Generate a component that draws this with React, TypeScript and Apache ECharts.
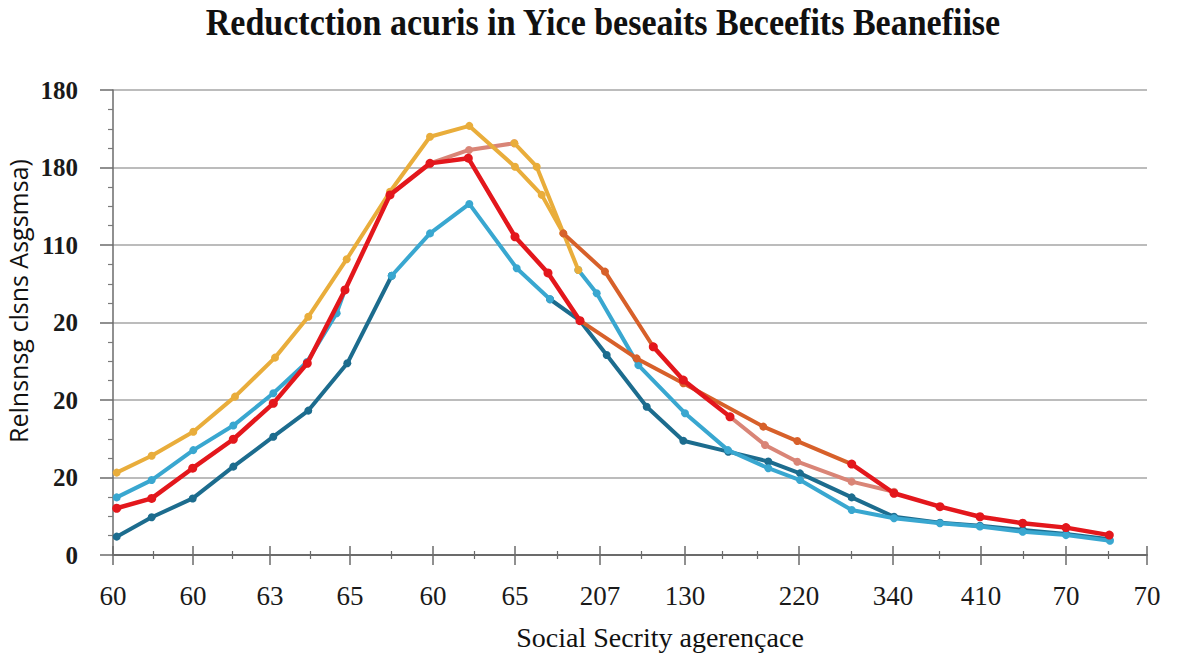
import React, { useEffect, useRef } from "react";
import * as echarts from "echarts";

const TITLE = "Reductction acuris in Yice beseaits Beceefits Beanefiise";
const Y_NAME = "Relnsnsg clsns Asgsmsa)";
const X_NAME = "Social Secrity agerençace";

// x positions of ticks (axis units) and their labels
const X_MAJOR = [0, 80, 157, 237, 320, 402, 487, 572, 686, 780, 868, 953, 1034];
const X_MINOR = [40, 119, 197, 278, 361, 444, 528, 609, 644, 738, 826, 910, 995];
const X_LABELS = ["60", "60", "63", "65", "60", "65", "207", "130", "220", "340", "410", "70", "70"];
const Y_LABELS = ["0", "20", "20", "20", "110", "180", "180"];

// series values [x, y]
const darkBlueLeft = [
  [3.7, 7.1], [38.7, 14.6], [79.7, 21.9], [120.3, 34.2], [160.3, 45.8],
  [195.3, 55.9], [234.3, 74.2], [278.7, 108.1],
];
const lightBluePeak = [
  [278.7, 108.1], [317, 124.5], [356.3, 135.9], [403.7, 111.0], [437, 99.0],
];
const darkBlueRight = [
  [437, 99.0], [467, 90.7], [493.7, 77.4], [533.7, 57.4], [570.3, 44.2],
  [615.3, 40.0], [655.3, 36.2], [687, 31.6], [738.7, 22.3], [781, 14.8],
  [827, 12.5], [867, 11.3], [909.7, 9.7], [953, 8.1], [996.3, 6.1],
];
const lightBlueLeft = [
  [3.7, 22.3], [38.7, 29.0], [80.3, 40.6], [120.3, 50.1], [160.3, 62.6],
  [194, 74.7], [223.7, 93.6], [232, 102.6],
];
const lightBlueRight = [
  [465.3, 110.3], [483.7, 101.3], [525.3, 73.5], [572, 54.9], [615, 40.6],
  [655.3, 33.6], [687, 29.0], [738.7, 17.4], [781, 14.2], [827, 12.3],
  [867, 11.0], [909.7, 9.0], [953, 7.7], [997, 5.5],
];
const redLeft = [
  [3.7, 18.1], [38.7, 21.9], [79.7, 33.6], [120.3, 44.8], [160.3, 58.7],
  [194.3, 74.2], [232, 102.6], [277, 139.4], [317, 151.6], [355.3, 153.6],
  [402, 123.2], [435, 109.2], [467, 90.7],
];
const orangeA = [
  [467, 90.7], [523.7, 76.1], [570.3, 66.5], [650.3, 49.7], [684.3, 44.1], [738.7, 35.2],
];
const redRight = [
  [738.7, 35.2], [781, 23.9], [827, 18.7], [867, 14.8], [909.7, 12.3], [953, 10.6], [996.3, 7.7],
];
const goldMain = [
  [3.7, 31.9], [38.7, 38.4], [80.3, 47.7], [122, 61.3], [162, 76.4],
  [195.3, 92.2], [233.7, 114.5], [277, 140.6], [317, 161.9], [356.3, 166.1],
  [402, 150.3], [428.7, 139.4], [450.3, 124.5],
];
const orangeB = [[450.3, 124.5], [492, 109.7], [540.3, 80.6]];
const redMid = [[540.3, 80.6], [570.3, 67.7], [617, 53.5]];
const salmonRight = [[617, 53.5], [652, 42.6], [684.3, 36.1], [738.7, 28.4], [781, 24.5]];
const salmonPeak = [[317, 151.6], [356, 156.8], [401.3, 159.4]];
const goldPeak = [[401.3, 159.4], [423.7, 150.3], [465.3, 110.3]];

const GOLD = "#E9AD3B";
const LIGHT_BLUE = "#39A7D0";
const DARK_BLUE = "#1C6C8E";
const RED = "#E3171C";
const ORANGE = "#D7602A";
const SALMON = "#D98577";

const SERIES_DEFS: [number[][], string, number][] = [
  [darkBlueLeft, DARK_BLUE, 2],
  [darkBlueRight, DARK_BLUE, 2],
  [lightBlueLeft, LIGHT_BLUE, 3],
  [lightBluePeak, LIGHT_BLUE, 3],
  [lightBlueRight, LIGHT_BLUE, 3],
  [salmonPeak, SALMON, 4],
  [salmonRight, SALMON, 4],
  [goldMain, GOLD, 5],
  [goldPeak, GOLD, 5],
  [orangeA, ORANGE, 6],
  [orangeB, ORANGE, 6],
  [redLeft, RED, 7],
  [redMid, RED, 7],
  [redRight, RED, 7],
];

const AXIS_COLOR = "#6b6b6b";

export default function App() {
  const ref = useRef<HTMLDivElement>(null);
  useEffect(() => {
    if (!ref.current) return;
    const chart = echarts.init(ref.current, null, { renderer: "svg" });
    const baseX = {
      type: "value",
      min: 0,
      max: 1034,
      position: "bottom",
      splitLine: { show: false },
      axisLabel: { show: false },
      axisLine: { show: false },
    };
    const option = {
      animation: false,
      backgroundColor: "#ffffff",
      grid: { left: 113, right: 53, top: 90, bottom: 99, containLabel: false },
      xAxis: [
        {
          ...baseX,
          axisLine: { show: true, onZero: false, lineStyle: { color: AXIS_COLOR, width: 2 } },
          axisTick: { show: true, customValues: X_MAJOR, length: 10, lineStyle: { color: AXIS_COLOR, width: 1.5 } },
          axisLabel: {
            show: true,
            customValues: X_MAJOR,
            margin: 27,
            fontSize: 27,
            fontFamily: "Liberation Serif",
            color: "#1a1a1a",
            formatter: (v: number) => {
              const i = X_MAJOR.indexOf(v);
              return i >= 0 ? X_LABELS[i] : "";
            },
          },
        },
        {
          ...baseX,
          axisTick: { show: true, inside: true, customValues: X_MAJOR, length: 9, lineStyle: { color: AXIS_COLOR, width: 1.5 } },
        },
        {
          ...baseX,
          axisTick: { show: true, customValues: X_MINOR, length: 4, lineStyle: { color: AXIS_COLOR, width: 1.2 } },
        },
        {
          ...baseX,
          axisTick: { show: true, inside: true, customValues: X_MINOR, length: 4, lineStyle: { color: AXIS_COLOR, width: 1.2 } },
        },
      ],
      yAxis: {
        type: "value",
        min: 0,
        max: 180,
        interval: 30,
        axisLine: { show: true, lineStyle: { color: AXIS_COLOR, width: 1.5 } },
        axisTick: { show: true, length: 13, lineStyle: { color: AXIS_COLOR, width: 1.5 } },
        minorTick: { show: true, splitNumber: 4, length: 5, lineStyle: { color: "#7a7a7a", width: 1.2 } },
        splitLine: { show: true, lineStyle: { color: "#a6a6a6", width: 1.5 } },
        axisLabel: {
          margin: 35,
          fontSize: 25,
          fontWeight: "bold",
          fontFamily: "Liberation Serif",
          color: "#1a1a1a",
          formatter: (v: number) => Y_LABELS[Math.round(v / 30)] ?? "",
        },
      },
      graphic: [
        {
          type: "text",
          x: 603,
          y: 22,
          scaleX: 0.895,
          style: {
            text: TITLE,
            font: "bold 38px 'Liberation Serif'",
            lineHeight: 38,
            fill: "#111111",
            textAlign: "center",
            textVerticalAlign: "middle",
          },
        },
        {
          type: "text",
          x: 18,
          y: 301,
          rotation: Math.PI / 2,
          style: {
            text: Y_NAME,
            font: "25px 'Open Sans'",
            lineHeight: 25,
            fill: "#111111",
            textAlign: "center",
            textVerticalAlign: "middle",
          },
        },
        {
          type: "text",
          x: 660,
          y: 637,
          style: {
            text: X_NAME,
            font: "28px 'Liberation Serif'",
            lineHeight: 28,
            fill: "#111111",
            textAlign: "center",
            textVerticalAlign: "middle",
          },
        },
      ],
      series: SERIES_DEFS.map(([data, color, z]) => ({
        type: "line",
        data,
        xAxisIndex: 0,
        yAxisIndex: 0,
        z,
        symbol: "circle",
        symbolSize: color === RED ? 9 : 8,
        showSymbol: true,
        lineStyle: { color, width: color === RED ? 4.5 : 4 },
        itemStyle: { color },
        emphasis: { disabled: true },
      })),
    };
    chart.setOption(option as any);
    return () => chart.dispose();
  }, []);
  return (
    <div
      ref={ref}
      style={{ position: "fixed", left: 0, top: 0, width: 1200, height: 654, background: "#fff" }}
    />
  );
}
